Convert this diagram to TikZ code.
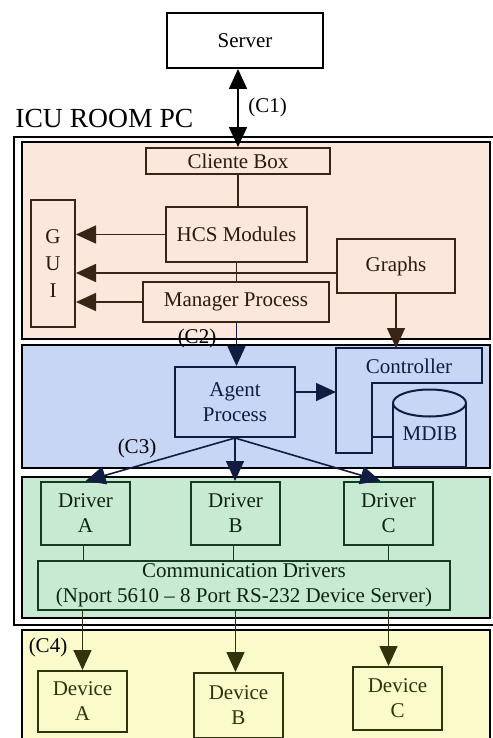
\documentclass[tikz,border=0pt]{standalone}
\usepackage{fontspec}
\setmainfont{Liberation Serif}
\usetikzlibrary{arrows.meta}

\definecolor{pinkbg}{RGB}{251,231,219}
\definecolor{bluebg}{RGB}{200,214,245}
\definecolor{greenbg}{RGB}{200,234,210}
\definecolor{yellowbg}{RGB}{250,250,202}
\definecolor{pinkln}{RGB}{58,36,22}
\definecolor{blueln}{RGB}{16,28,66}
\definecolor{greenln}{RGB}{20,60,32}
\definecolor{yellowln}{RGB}{50,50,12}

\tikzset{
	region/.style={draw=black, line width=1.2pt},
	blk/.style={draw, line width=1pt, align=center, inner sep=0pt,
		font=\fontsize{10.5}{12.5}\selectfont},
	link/.style={line width=0.8pt},
	arr/.style={line width=0.8pt, -{Triangle[length=10pt, width=9pt]}},
	biarr/.style={line width=0.8pt, {Triangle[length=10pt, width=9pt]}-{Triangle[length=10pt, width=9pt]}},
	lbl/.style={font=\fontsize{10.5}{12.5}\selectfont, inner sep=0pt}
}

\begin{document}
\begin{tikzpicture}[x=0.5pt, y=-0.5pt]
	\useasboundingbox (0,0) rectangle (492,738);
	\fill[white] (0,0) rectangle (492,738);
	%
	\draw[line width=1.2pt] (14,137) rectangle (496,625);
	\fill[pinkbg] (22,142) rectangle (490,339);
	\draw[region] (22,142) rectangle (490,339);
	\fill[bluebg] (22,345) rectangle (490,468);
	\draw[region] (22,345) rectangle (490,468);
	\fill[greenbg] (22,477) rectangle (490,618);
	\draw[region] (22,477) rectangle (490,618);
	\fill[yellowbg] (22,630) rectangle (490,745);
	\draw[region] (22,630) rectangle (490,745);
	%
	\node[blk, fill=white, minimum width=78pt, minimum height=27.5pt] (server) at (245,40.5) {Server};
	\node[anchor=west, inner sep=0pt, font=\fontsize{13.8}{16}\selectfont] (icu) at (15,118) {ICU ROOM PC};
	%
	\begin{scope}[every node/.append style={draw=pinkln, fill=pinkbg, text=pinkln!70!black}]
		\node[blk, minimum width=92pt, minimum height=13pt] (cliente) at (238,161) {Cliente Box};
		\node[blk, minimum width=70.5pt, minimum height=27.5pt] (hcs) at (236.5,234.5) {HCS Modules};
		\node[blk, minimum width=22pt, minimum height=63.5pt] (gui) at (53,263.5) {G\\[1pt]U\\[1pt]I};
		\node[blk, minimum width=59pt, minimum height=27pt] (graphs) at (396,266) {Graphs};
		\node[blk, minimum width=93pt, minimum height=20pt] (manager) at (236,302) {Manager Process};
	\end{scope}
	\draw[biarr] (server.south -| cliente.north) -- (cliente.north);
	\node[lbl, anchor=west] (c1) at (248,107) {(C1)};
	\draw[link, pinkln] (cliente.south) -- (hcs.north -| cliente.south);
	\draw[link, pinkln] (hcs.south) -- (manager.north -| hcs.south);
	\draw[arr, pinkln] (hcs.west) -- (hcs.west -| gui.east);
	\draw[arr, pinkln] ([yshift=-3.5pt]graphs.west) -- ([yshift=-3.5pt]graphs.west -| gui.east);
	\draw[arr, pinkln] (manager.west) -- (manager.west -| gui.east);
	%
	\coordinate (ctrl-nw) at (336,348);
	\coordinate (ctrl-ne) at (482,348);
	\coordinate (ctrl-e) at (482,383);
	\coordinate (ctrl-in) at (372,383);
	\coordinate (ctrl-sin) at (372,453);
	\coordinate (ctrl-sw) at (336,453);
	\draw[line width=1pt, draw=blueln, fill=bluebg]
		(ctrl-nw) -- (ctrl-ne) -- (ctrl-e) -- (ctrl-in) -- (ctrl-sin) -- (ctrl-sw) -- cycle;
	\node[lbl, text=blueln] (controller) at (409,366) {Controller};
	% database cylinder
	\coordinate (mdib-l) at (393,437);
	\draw[line width=1pt, draw=blueln, fill=bluebg] (393,403) -- (393,467) -- (466,467) -- (466,403);
	\draw[line width=1pt, draw=blueln, fill=bluebg] (429.5,403) ellipse (36.5 and 13.5);
	\node[lbl, text=blueln] (mdib) at (430,434) {MDIB};
	\draw[link, blueln] (ctrl-sin |- mdib-l) -- (mdib-l);
	%
	\node[blk, draw=blueln, fill=bluebg, text=blueln, minimum width=60pt, minimum height=35pt] (agent) at (235,402) {Agent\\Process};
	\draw[arr, blueln] (manager.south -| hcs.south) -- (agent.north -| hcs.south);
	\node[lbl] (c2) at (197,338) {(C2)};
	\draw[arr, pinkln] (graphs.south) -- (graphs.south |- ctrl-nw);
	\draw[arr, blueln] ([yshift=5pt]agent.east) -- ([yshift=5pt]agent.east -| ctrl-nw);
	%
	\begin{scope}[every node/.append style={draw=greenln, fill=greenbg, text=greenln!60!black}]
		\node[blk, minimum width=44.5pt, minimum height=31.5pt] (drvA) at (85.5,513.5) {Driver\\A};
		\node[blk, minimum width=44.5pt, minimum height=31.5pt] (drvB) at (235.5,513.5) {Driver\\B};
		\node[blk, minimum width=44.5pt, minimum height=31.5pt] (drvC) at (388.5,513.5) {Driver\\C};
		\node[blk, minimum width=206pt, minimum height=24.5pt] (comm) at (244,585.5)
			{Communication Drivers\\(Nport 5610 -- 8 Port RS-232 Device Server)};
	\end{scope}
	\draw[arr, blueln] (agent.south) -- (drvA.north);
	\draw[arr, blueln] (agent.south) -- (drvB.north -| agent.south);
	\draw[arr, blueln] (agent.south) -- ([xshift=-4pt]drvC.north);
	\node[lbl] (c3) at (137,448) {(C3)};
	\draw[link, greenln] ([xshift=-1pt]drvA.south) -- ([xshift=-1pt]drvA.south |- comm.north);
	\draw[link, greenln] ([xshift=-1pt]drvB.south) -- ([xshift=-1pt]drvB.south |- comm.north);
	\draw[link, greenln] (drvC.south) -- (drvC.south |- comm.north);
	%
	\begin{scope}[every node/.append style={draw=yellowln, fill=yellowbg, text=yellowln}]
		\node[blk, minimum width=44.5pt, minimum height=30.5pt] (devA) at (82.5,701.5) {Device\\A};
		\node[blk, minimum width=44.5pt, minimum height=32.5pt] (devB) at (238.5,705.5) {Device\\B};
		\node[blk, minimum width=44.5pt, minimum height=31.5pt] (devC) at (397.5,698.5) {Device\\C};
	\end{scope}
	\draw[arr, yellowln] (devA.north |- comm.south) -- (devA.north);
	\draw[arr, yellowln] ([xshift=-1.5pt]devB.north |- comm.south) -- ([xshift=-1.5pt]devB.north);
	\draw[arr, yellowln] (drvC.south |- comm.south) -- (drvC.south |- devC.north);
	\node[lbl] (c4) at (48,647) {(C4)};
\end{tikzpicture}
\end{document}
